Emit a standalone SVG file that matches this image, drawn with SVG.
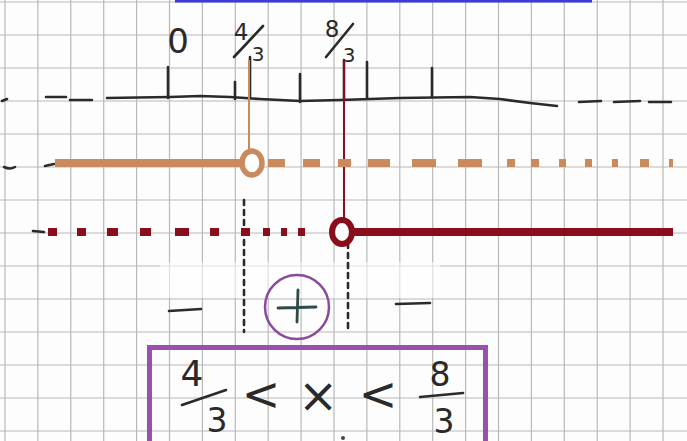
<svg xmlns="http://www.w3.org/2000/svg" width="687" height="441" viewBox="0 0 687 441">
<style>
.grid{stroke:#b9b9b9;stroke-width:1.2}
.ink{stroke:#2a2a2a;stroke-width:2.6;fill:none;stroke-linecap:round;stroke-linejoin:round}
.hand{font-family:"DejaVu Sans","Liberation Sans",sans-serif;fill:#2a2a2a}
.brown{stroke:#c98a5e}
.red{stroke:#8a0d1c}
</style>
<rect width="687" height="441" fill="#fdfdfd"/>
<g id="grid">
<path class="grid" d="M5,0V441M37.9,0V441M70.8,0V441M103.7,0V441M136.6,0V441M169.5,0V441M202.4,0V441M235.3,0V441M268.2,0V441M301.1,0V441M334,0V441M366.9,0V441M399.8,0V441M432.7,0V441M465.6,0V441M498.5,0V441M531.4,0V441M564.3,0V441M597.2,0V441M630.1,0V441M663,0V441"/>
<path class="grid" d="M0,2H687M0,35H687M0,68H687M0,101H687M0,134H687M0,167H687M0,200H687M0,233H687M0,266H687M0,299H687M0,332H687M0,365H687M0,398H687M0,431H687"/>
</g>
<rect x="160" y="262" width="280" height="36" fill="#ffffff" opacity="0.55"/>
<line x1="175" y1="1" x2="592" y2="1" stroke="#3b3bd6" stroke-width="3"/>
<g id="number-line">
<path class="ink" stroke-width="3" d="M107,98 L170,97 L200,96 L230,97 L260,99 L300,101 L340,100 L400,98 L470,97 L500,99 L530,103 L557,106"/>
<path class="ink" d="M2,101 L7,99 M46,97 L66,97 M70,100 L92,100 M579,102 L601,101 M614,102 L640,101 M649,102 L671,102"/>
<path class="ink" d="M168,67 V98 M235,82 V99 M250,57 V98 M300,74 V102 M344,60 V100 M367,62 V98 M432,68 V96"/>
<text class="hand" x="178" y="53" font-size="34" text-anchor="middle">0</text>
<text class="hand" x="241" y="40" font-size="23" text-anchor="middle">4</text>
<path class="ink" d="M234,57 L263,26" stroke-width="2"/>
<text class="hand" x="258" y="61" font-size="20" text-anchor="middle">3</text>
<text class="hand" x="332" y="37" font-size="23" text-anchor="middle">8</text>
<path class="ink" d="M326,57 L353,24" stroke-width="2"/>
<text class="hand" x="349" y="62" font-size="20" text-anchor="middle">3</text>
</g>
<g id="connectors">
<line class="brown" x1="249" y1="60" x2="249" y2="152" stroke-width="2"/>
<line class="red" x1="344" y1="60" x2="344" y2="221" stroke-width="2"/>
<path class="ink" stroke-width="1.4" stroke-dasharray="5 5" stroke="#555" d="M244,200 V332 M348,243 V332"/>
</g>
<g id="brown-row">
<path class="ink" d="M4,167 Q10,170 15,167 M45,166 L54,164"/>
<line class="brown" x1="55" y1="163" x2="241" y2="163" stroke-width="8"/>
<path class="brown" stroke-width="8" fill="none" d="M268,163H285M303,163H320M338,163H351M368,163H390M412,163H436M458,163H482M507,163H515M531,163H539M559,163H566M585,163H592M612,163H618M640,163H649M669,163H673"/>
<ellipse class="brown" cx="252" cy="163" rx="10" ry="12" fill="#ffffff" stroke-width="5.5"/>
</g>
<g id="red-row">
<path class="ink" d="M33,231 L44,232"/>
<path class="red" stroke-width="8" fill="none" d="M48,232H57M77,232H86M107,232H118M140,232H151M175,232H189M210,232H219M241,232H250M263,232H270M281,232H287M298,232H305"/>
<line class="red" x1="352" y1="232" x2="673" y2="232" stroke-width="8"/>
<ellipse class="red" cx="342" cy="232" rx="10" ry="12" fill="#ffffff" stroke-width="6"/>
</g>
<g id="signs">
<path class="ink" stroke-width="3" d="M169,311 L201,309 M396,304 L430,303"/>
<circle cx="297" cy="307" r="32" fill="none" stroke="#8b4a9c" stroke-width="2.5"/>
<path d="M278,308 L316,307 M298,290 L297,322" stroke="#2f4a4a" stroke-width="2.8" fill="none" stroke-linecap="round"/>
</g>
<g id="result">
<rect x="149.5" y="347.5" width="336" height="100" fill="none" stroke="#9b4fae" stroke-width="5"/>
<text class="hand" x="192" y="386" font-size="36" text-anchor="middle">4</text>
<path class="ink" d="M182,405 L226,390" stroke-width="2.6"/>
<text class="hand" x="217" y="432" font-size="33" text-anchor="middle">3</text>
<text class="hand" x="261" y="410" font-size="46" text-anchor="middle">&lt;</text>
<text class="hand" x="318" y="412" font-size="48" text-anchor="middle">×</text>
<text class="hand" x="378" y="410" font-size="46" text-anchor="middle">&lt;</text>
<text class="hand" x="440" y="386" font-size="33" text-anchor="middle">8</text>
<path class="ink" d="M420,397 L463,393" stroke-width="2.6"/>
<text class="hand" x="444" y="433" font-size="33" text-anchor="middle">3</text>
<circle cx="343" cy="438" r="2" fill="#444"/>
</g>
</svg>
